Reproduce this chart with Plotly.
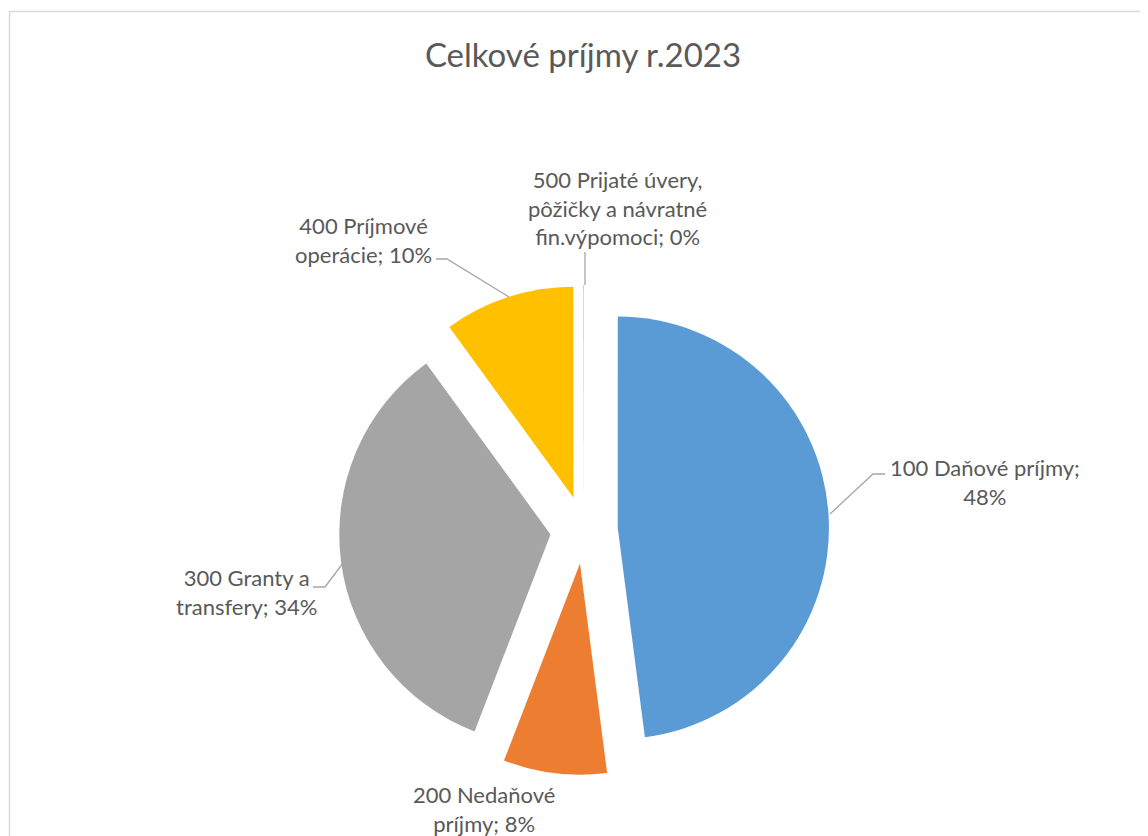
import plotly.graph_objects as go

W, H = 1148, 836
OFF = 8  # browser body margin: page pixel -> figure pixel

# ---- data ----
categories = ["100 Daňové príjmy", "200 Nedaňové príjmy", "300 Granty a transfery",
              "400 Príjmové operácie", "500 Prijaté úvery, pôžičky a návratné fin.výpomoci"]
label_lines = [
    ["100 Daňové príjmy;"],
    ["200 Nedaňové", "príjmy;"],
    ["300 Granty a", "transfery;"],
    ["400 Príjmové", "operácie;"],
    ["500 Prijaté úvery,", "pôžičky a návratné", "fin.výpomoci;"],
]
values = [47.9, 7.9, 34.1, 9.98, 0.02]
colors = ["#5B9BD5", "#ED7D31", "#A5A5A5", "#FFC000", "#4472C4"]
title_text = "Celkové príjmy r.2023"

total = sum(values)
pcts = [round(v / total * 100) for v in values]


def label_text(lines, pct):
    if len(lines) == 1:
        return lines[0] + "<br>" + f"{pct}%"
    return "<br>".join(lines[:-1] + [lines[-1] + f" {pct}%"])


def px(x):
    return (x - OFF) / W


def py(y):
    return 1 - (y - OFF) / H


# pie placement (page pixel based)
cx, cy, half = 584, 530, 245

fig = go.Figure(go.Pie(
    labels=categories,
    values=values,
    sort=False,
    direction="clockwise",
    rotation=0,
    pull=[0.16] * len(values),
    marker=dict(colors=colors, line=dict(width=0)),
    textinfo="none",
    hoverinfo="label+percent",
    showlegend=False,
    domain=dict(x=[px(cx - half), px(cx + half)], y=[py(cy + half), py(cy - half)]),
))

label_pos = [(985, 482), (484, 809), (246, 592), (363, 240), (617, 208)]
font = dict(family="Lato, Carlito, Calibri, sans-serif", size=22, color="#595959")
annotations = []
for lines, pct, (lx, ly) in zip(label_lines, pcts, label_pos):
    annotations.append(dict(
        x=px(lx), y=py(ly), xref="paper", yref="paper",
        text=label_text(lines, pct), showarrow=False,
        font=font, align="center", xanchor="center", yanchor="middle",
    ))

leader_paths = [
    [(830, 514), (873, 474), (885, 474)],
    [(313, 587), (325, 587), (343, 563)],
    [(436, 259), (447, 259), (509, 297)],
    [(585, 252), (585, 285)],
]
shapes = []
for pts in leader_paths:
    path = "M " + " L ".join(f"{px(x):.5f},{py(y):.5f}" for x, y in pts)
    shapes.append(dict(type="path", xref="paper", yref="paper", path=path,
                       line=dict(color="#A6A6A6", width=1.3)))

shapes.append(dict(type="rect", xref="paper", yref="paper",
                   x0=px(9.5), y0=py(11.5), x1=1.1, y1=-0.1,
                   line=dict(color="#D9D9D9", width=1.5), fillcolor="rgba(0,0,0,0)"))

fig.update_layout(
    width=W, height=H,
    margin=dict(l=0, r=0, t=0, b=0),
    paper_bgcolor="white",
    plot_bgcolor="white",
    title=dict(text=title_text, x=px(583), y=py(55), xanchor="center", yanchor="middle",
               font=dict(family="Lato, Carlito, Calibri, sans-serif", size=33, color="#595959")),
    annotations=annotations,
    shapes=shapes,
)

fig.write_html("out.html")
